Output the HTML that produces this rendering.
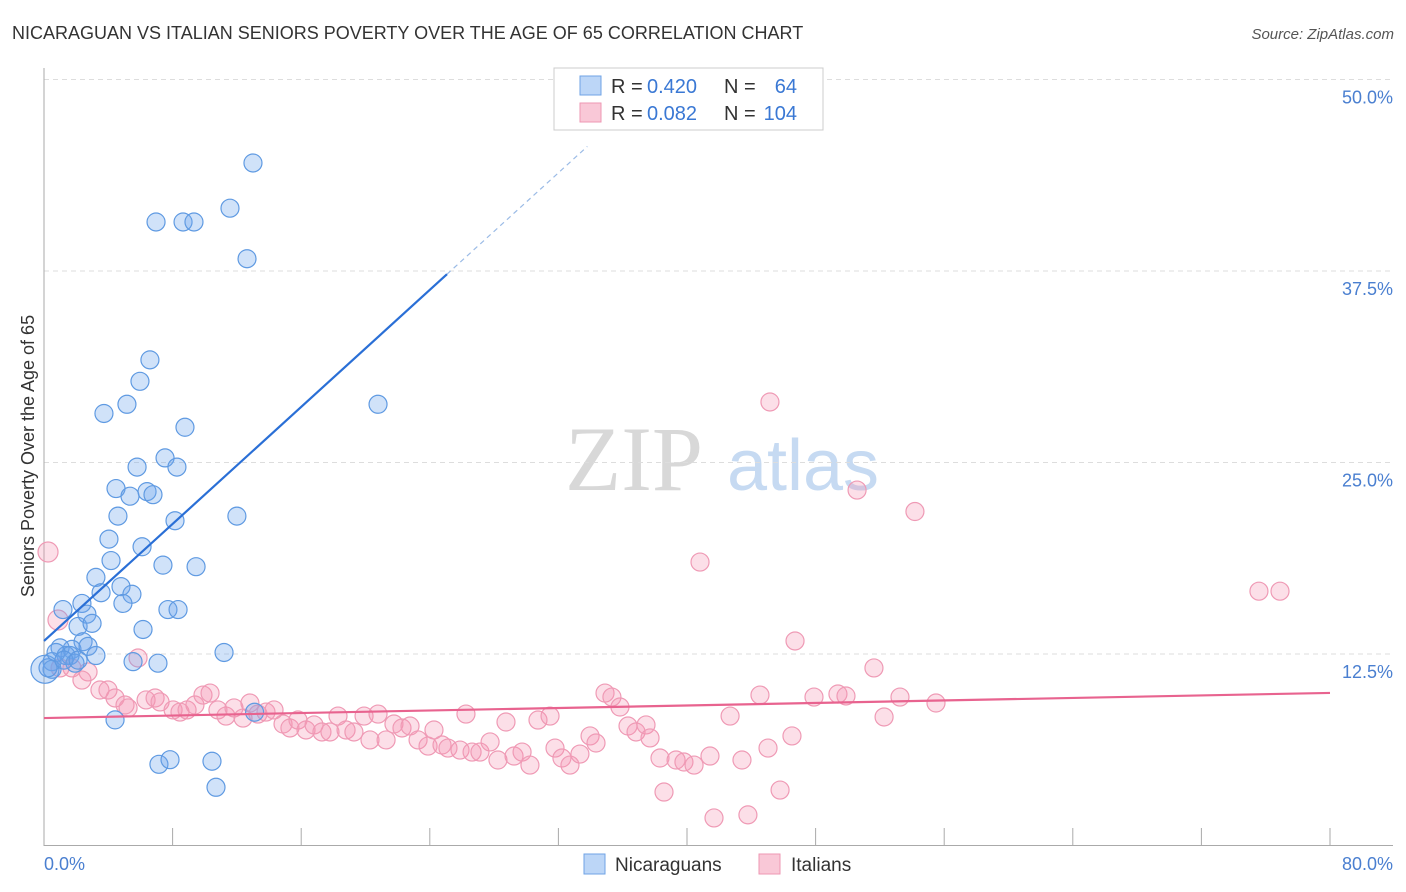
<!DOCTYPE html>
<html><head><meta charset="utf-8"><style>
body{margin:0;background:#fff;font-family:"Liberation Sans",sans-serif;}
svg{display:block}
</style></head><body>
<svg id="chart" width="1406" height="892">
<text x="12" y="39" font-size="18" fill="#333">NICARAGUAN VS ITALIAN SENIORS POVERTY OVER THE AGE OF 65 CORRELATION CHART</text>
<text x="1394" y="39" font-size="15" fill="#555" font-style="italic" text-anchor="end">Source: ZipAtlas.com</text>
<g>
<text x="634" y="490" font-size="92" font-family="Liberation Serif,serif" fill="#d8d8d8" text-anchor="middle">ZIP</text>
<text x="803" y="490" font-size="72" fill="#c6daf2" text-anchor="middle">atlas</text>
</g>
<g id="grid"></g>
<g id="axes"></g>
<g id="points"></g>
<g id="lines"></g>
<text transform="translate(34,456) rotate(-90)" font-size="18" fill="#333" text-anchor="middle">Seniors Poverty Over the Age of 65</text>
<g>
<rect x="554" y="68" width="269" height="62" fill="#fff" stroke="#ccc"/>
<rect x="580" y="76" width="21" height="19" fill="#bcd6f7" stroke="#6fa3e6"/>
<text x="611" y="93" font-size="20" fill="#333">R =</text>
<text x="647" y="93" font-size="20" fill="#3a78d4">0.420</text>
<text x="724" y="93" font-size="20" fill="#333">N =</text>
<text x="797" y="93" font-size="20" fill="#3a78d4" text-anchor="end">64</text>
<rect x="580" y="103" width="21" height="19" fill="#f9c8d7" stroke="#ee97b3"/>
<text x="611" y="120" font-size="20" fill="#333">R =</text>
<text x="647" y="120" font-size="20" fill="#3a78d4">0.082</text>
<text x="724" y="120" font-size="20" fill="#333">N =</text>
<text x="797" y="120" font-size="20" fill="#3a78d4" text-anchor="end">104</text>
</g>
<g>
<rect x="584" y="854" width="21" height="20" fill="#bcd6f7" stroke="#6fa3e6"/>
<text x="615" y="871" font-size="19" fill="#333">Nicaraguans</text>
<rect x="759" y="854" width="21" height="20" fill="#f9c8d7" stroke="#ee97b3"/>
<text x="791" y="871" font-size="19" fill="#333">Italians</text>
</g>
</svg>
<script>
const xTicks=[0,8,16,24,32,40,48,56,64,72,80];
const yTicks=[12.5,25,37.5,50];
const yTickLabels=["12.5%","25.0%","37.5%","50.0%"];
const xTickLabels=["0.0%","80.0%"];
const blueX=[13.0,6.97,8.65,9.33,11.57,12.63,6.59,5.97,3.73,5.16,20.78,8.77,7.53,5.79,8.27,4.48,5.35,6.41,6.78,12.0,4.6,8.15,4.04,6.1,4.17,7.4,9.46,3.23,4.79,3.55,5.47,4.91,2.36,1.18,2.67,7.71,8.34,2.12,2.99,6.16,2.43,11.2,1.74,5.54,7.09,4.42,7.15,7.84,10.45,10.7,1.0,1.37,0.5,0.06,0.5,1.62,1.93,2.74,0.75,0.25,3.23,13.1,1.24,2.12];
const blueY=[44.55,40.7,40.7,40.7,41.6,38.3,31.7,30.3,28.2,28.8,28.8,27.3,25.3,24.7,24.7,23.3,22.8,23.1,22.9,21.5,21.5,21.2,20.0,19.5,18.6,18.3,18.2,17.5,16.9,16.5,16.4,15.8,15.8,15.4,15.1,15.4,15.4,14.3,14.5,14.1,13.3,12.6,12.8,12.0,11.9,8.2,5.3,5.6,5.5,3.8,12.9,12.4,12.0,11.5,11.5,12.4,11.9,13.0,12.6,11.6,12.4,8.7,12.1,12.1];
const pinkX=[0.25,0.87,5.85,1.0,1.74,2.74,2.36,3.48,3.98,4.42,5.04,5.23,6.35,6.91,7.22,8.03,8.46,8.9,9.39,9.89,10.33,10.82,11.32,11.82,12.38,12.81,13.31,13.81,14.31,14.87,15.3,15.8,16.3,16.8,17.29,17.79,18.29,18.79,19.28,19.91,20.28,20.78,21.28,21.77,22.27,22.77,23.27,23.89,24.26,24.76,25.13,25.88,26.25,26.63,27.12,27.75,28.24,28.74,29.24,29.74,30.23,30.73,31.48,31.79,32.22,32.72,33.34,33.97,34.34,34.9,35.33,35.83,36.33,36.83,37.45,37.7,38.32,38.57,39.32,39.81,40.44,40.81,41.43,41.68,42.68,43.42,43.79,44.54,45.04,45.16,45.79,46.53,46.72,47.9,49.39,49.89,50.58,51.63,52.26,53.25,54.18,55.49,75.58,76.89];
const pinkY=[19.16,14.72,12.24,11.59,11.59,11.33,10.8,10.15,10.15,9.63,9.17,8.98,9.5,9.63,9.37,8.85,8.71,8.85,9.17,9.82,9.95,8.85,8.45,8.98,8.32,9.3,8.58,8.71,8.85,7.93,7.67,8.19,7.54,7.87,7.41,7.41,8.45,7.54,7.41,8.45,6.89,8.58,6.89,7.93,7.67,7.8,6.89,6.49,7.54,6.56,6.36,6.23,8.58,6.1,6.1,6.76,5.58,8.06,5.84,6.1,5.25,8.19,8.45,6.36,5.71,5.25,5.97,7.15,6.69,9.95,9.69,9.04,7.8,7.41,7.87,7.02,5.71,3.49,5.58,5.45,5.25,18.5,5.84,1.8,8.45,5.58,2.0,9.82,6.36,28.95,3.62,7.15,13.35,9.69,9.89,9.76,23.2,11.59,8.39,9.69,21.8,9.3,16.6,16.6];
const blueFit=[13.35,0.955];
const pinkFit=[8.32,0.0205];
const NS="http://www.w3.org/2000/svg";
const X=v=>44+v*16.075, Y=v=>845.5-v*15.32;
function mk(tag,attrs,parent){const e=document.createElementNS(NS,tag);for(const k in attrs)e.setAttribute(k,attrs[k]);document.getElementById(parent).appendChild(e);return e;}
yTicks.forEach((t,i)=>{
 const g=mk('line',{x1:44,x2:1393,y1:Y(t),y2:Y(t),stroke:'#ddd','stroke-dasharray':'5,4'},'grid');
 
 
 const l=mk('text',{x:1393,y:Y(t)+24,'font-size':18,fill:'#4a7fd0','text-anchor':'end'},'axes');
 l.textContent=yTickLabels[i];
 
 
});
const ax=mk('line',{x1:44,x2:44,y1:68,y2:846,stroke:'#aaa'},'axes');


const bx=mk('line',{x1:44,x2:1393,y1:845.5,y2:845.5,stroke:'#aaa'},'axes');


xTicks.forEach(t=>{const k=mk('line',{x1:X(t),x2:X(t),y1:828,y2:846,stroke:'#aaa'},'axes');
 
 });
const xl0=mk('text',{x:44,y:870,'font-size':18,fill:'#4a7fd0'},'axes');xl0.textContent=xTickLabels[0];


const xl1=mk('text',{x:1393,y:870,'font-size':18,fill:'#4a7fd0','text-anchor':'end'},'axes');xl1.textContent=xTickLabels[1];


pinkX.forEach((v,i)=>{const c=mk('circle',{cx:X(v),cy:Y(pinkY[i]),r:i<2?10:9,fill:'rgba(244,150,180,0.3)',stroke:'#ef9ab5','stroke-width':1.2},'points');
 
 });
blueX.forEach((v,i)=>{const c=mk('circle',{cx:X(v),cy:Y(blueY[i]),r:(i==53)?14:9,fill:'rgba(110,165,235,0.32)',stroke:'#5f9ae2','stroke-width':1.2},'points');
 
 });
const bx1=25.07,bx2=33.8;
const bl=mk('line',{x1:X(0),y1:Y(blueFit[0]),x2:X(bx1),y2:Y(blueFit[0]+blueFit[1]*bx1),stroke:'#2a6fd6','stroke-width':2.2},'lines');


const bd=mk('line',{x1:X(bx1),y1:Y(blueFit[0]+blueFit[1]*bx1),x2:X(bx2),y2:Y(blueFit[0]+blueFit[1]*bx2),stroke:'#9bbbe6','stroke-width':1.2,'stroke-dasharray':'5,4'},'lines');


const pl=mk('line',{x1:X(0),y1:Y(pinkFit[0]),x2:X(80),y2:Y(pinkFit[0]+pinkFit[1]*80),stroke:'#e8638f','stroke-width':2.2},'lines');


</script>
</body></html>
